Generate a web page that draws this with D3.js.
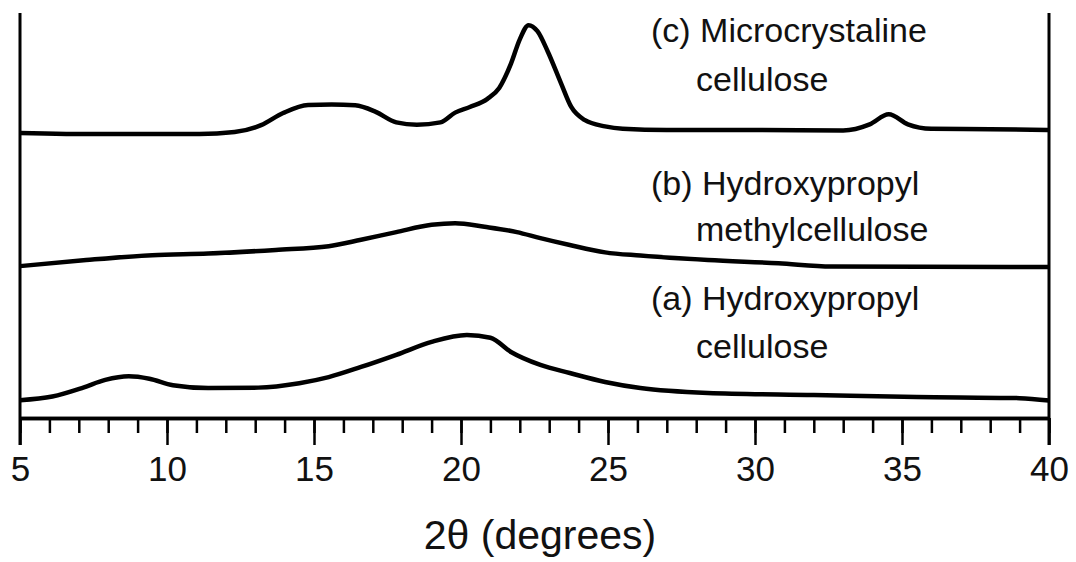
<!DOCTYPE html>
<meta charset="utf-8">
<head>
  <style>
    body { margin: 0; background: #fff; }
    svg text { font-family: "Liberation Sans", Arial, Helvetica, sans-serif; fill: #111; }
    .curve { fill: none; stroke: #000; stroke-width: 4.5; stroke-linejoin: round; }
    .frame { stroke: #000; stroke-width: 3; }
    .axis path { stroke: #000; stroke-width: 3.5; }
    .axis line { stroke: #000; stroke-width: 2.5; }
    .axis text { font-size: 35px; }
    .legend { font-size: 34px; }
  </style>
</head>
<body>
  <div class="chart"></div>
  <script src="https://d3js.org/d3.v7.min.js"></script>
  <script>

  // 2θ positions and intensities (a.u., curves stacked)
  var microTheta = [5, 7.7, 11.1, 12.3, 13.2, 13.95, 14.8, 15.6, 16.4, 17.1, 17.8, 18.5, 19.3, 19.8, 20.3, 20.9, 21.3, 21.7, 22.0, 22.3, 22.6, 22.95, 23.4, 23.75, 24.2, 24.9, 25.5, 27, 30, 33, 33.9, 34.55, 35.2, 36, 38, 40];
  var microI     = [70.4, 70.1, 70.1, 70.6, 72.3, 75.3, 77.3, 77.4, 77.2, 75.6, 73.0, 72.4, 73.0, 75.4, 76.8, 78.8, 81.5, 87.5, 93.5, 97.0, 95.5, 90.5, 82.7, 76.8, 73.6, 72.0, 71.4, 71.1, 71.1, 71.0, 72.5, 75.0, 72.5, 71.4, 71.3, 71.1];

  var hpmcTheta = [5, 7.25, 9.5, 11.4, 13.7, 15.5, 16.6, 17.8, 19.0, 19.8, 20.8, 21.9, 22.7, 23.7, 24.9, 26.1, 28.4, 30.8, 32.6, 40];
  var hpmcI     = [37.5, 39.0, 40.2, 40.6, 41.5, 42.4, 44.0, 45.9, 47.7, 48.1, 47.2, 45.9, 44.4, 42.7, 40.9, 40.1, 39.0, 38.2, 37.4, 37.3];

  var hpcTheta = [5, 6.1, 7.15, 7.9, 8.7, 9.4, 10.2, 11.4, 13.1, 14.5, 15.5, 16.6, 17.8, 19.0, 20.2, 21.0, 21.7, 22.7, 23.7, 24.9, 26.1, 28.4, 32.0, 35.5, 39.0, 40];
  var hpcI     = [4.4, 5.3, 7.5, 9.4, 10.3, 9.7, 8.1, 7.4, 7.5, 8.6, 10.1, 12.6, 15.6, 18.8, 20.5, 19.8, 16.3, 13.1, 11.1, 8.9, 7.4, 6.2, 5.7, 5.2, 4.9, 4.3];

  var majorTicks = [5, 10, 15, 20, 25, 30, 35, 40];
  var minorTicks = d3.range(5, 41, 1);

  var legendLines = [
    ["(c) Microcrystaline", "cellulose"],
    ["(b) Hydroxypropyl", "methylcellulose"],
    ["(a) Hydroxypropyl", "cellulose"]
  ];
  var legendBase = [42, 195, 310];
  var legendGap = [49, 46, 48];

  var W = 1076, H = 562;
  var x = d3.scaleLinear().domain([5, 40]).range([20, 1049]);
  var y = d3.scaleLinear().domain([0, 100]).range([418, 13]);

  var svg = d3.select(".chart").append("svg")
      .attr("width", W)
      .attr("height", H);

  // side frame lines
  svg.append("line").attr("class", "frame")
      .attr("x1", x(5)).attr("x2", x(5)).attr("y1", y(100)).attr("y2", 445);
  svg.append("line").attr("class", "frame")
      .attr("x1", x(40)).attr("x2", x(40)).attr("y1", y(100)).attr("y2", 445);

  // minor ticks
  svg.append("g")
      .attr("class", "axis")
      .attr("transform", "translate(0," + y(0) + ")")
      .call(d3.axisBottom(x).tickValues(minorTicks).tickSize(15).tickSizeOuter(0).tickFormat(""));

  // major ticks + labels
  svg.append("g")
      .attr("class", "axis")
      .attr("transform", "translate(0," + y(0) + ")")
      .call(d3.axisBottom(x).tickValues(majorTicks).tickSize(27).tickSizeOuter(0).tickPadding(11).tickFormat(d3.format("d")));

  svg.append("text")
      .attr("x", 540)
      .attr("y", 549)
      .attr("text-anchor", "middle")
      .style("font-size", "41px")
      .text("2θ (degrees)");

  var line = d3.line()
      .x(function(d) { return x(d[0]); })
      .y(function(d) { return y(d[1]); })
      .curve(d3.curveMonotoneX);

  [[microTheta, microI], [hpmcTheta, hpmcI], [hpcTheta, hpcI]].forEach(function(s) {
    svg.append("path")
        .attr("class", "curve")
        .attr("d", line(d3.zip(s[0], s[1])));
  });

  legendLines.forEach(function(l, i) {
    svg.append("text").attr("class", "legend")
        .attr("x", 651).attr("y", legendBase[i]).text(l[0]);
    svg.append("text").attr("class", "legend")
        .attr("x", 696).attr("y", legendBase[i] + legendGap[i]).text(l[1]);
  });

  </script>
</body>
